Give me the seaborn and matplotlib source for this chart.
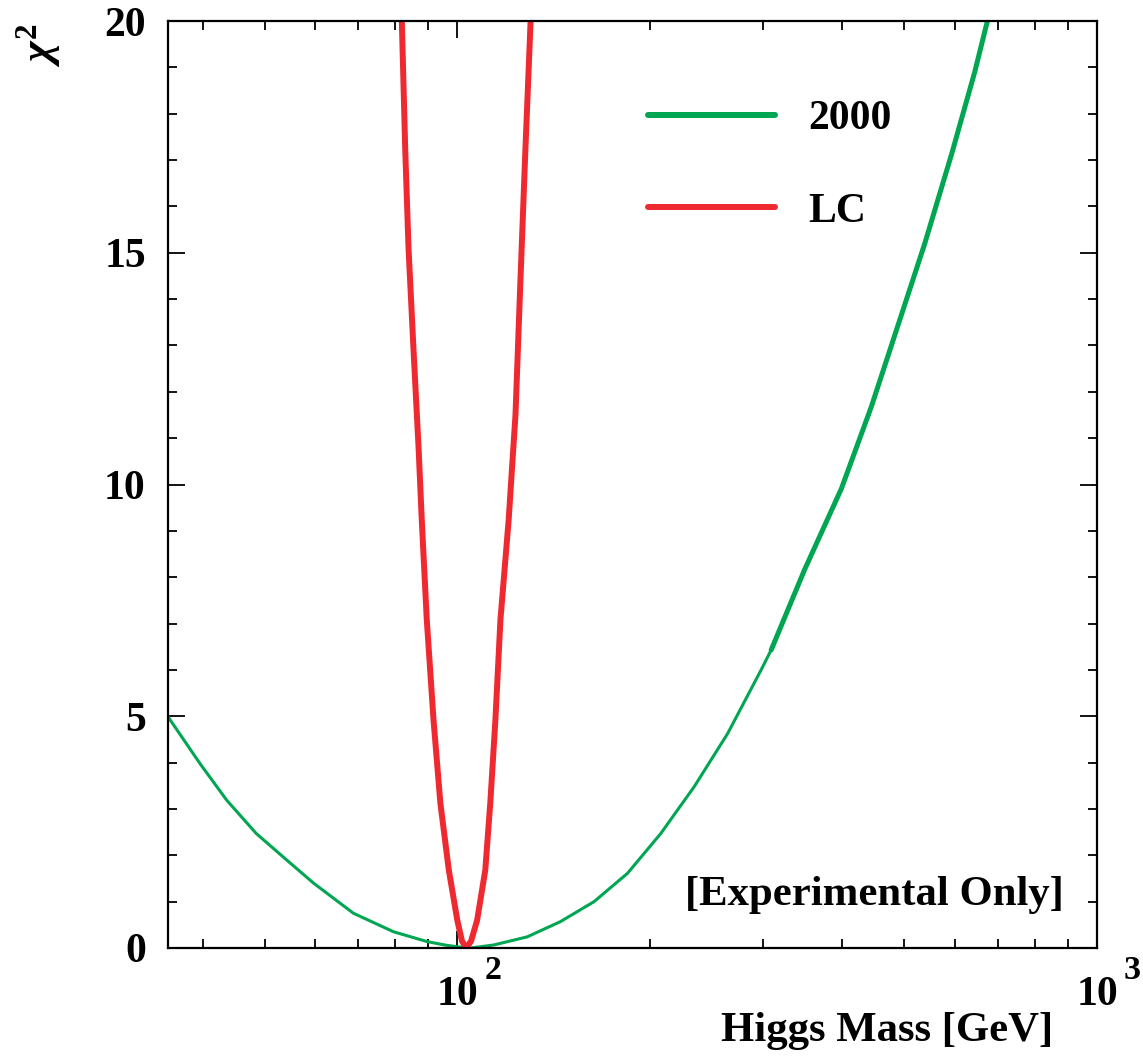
import matplotlib
matplotlib.use("Agg")
import matplotlib.pyplot as plt
import matplotlib.ticker as mticker
import seaborn as sns
import pandas as pd

# ---- data ----
green_mass_low = [35.3, 39.6, 43.6, 48.5, 54.1, 59.6, 68.8, 79.5, 89.6, 96.0, 101.0, 105.0,
                  114.0, 128.6, 145.0, 163.6, 184.5, 208.0, 234.6, 264.7, 298.5, 309.5]
green_chi2_low = [4.99, 3.98, 3.19, 2.47, 1.90, 1.40, 0.75, 0.35, 0.14, 0.06, 0.02, 0.0,
                  0.065, 0.24, 0.57, 1.0, 1.61, 2.47, 3.48, 4.63, 6.0, 6.43]
green_mass_high = [309.5, 349.0, 398.5, 443.9, 488.7, 538.0, 592.6, 644.0, 674.0]
green_chi2_high = [6.43, 8.16, 9.91, 11.68, 13.44, 15.2, 17.13, 18.9, 20.0]

lc_mass = [81.9, 82.9, 83.9, 85.4, 87.0, 88.0, 89.6, 91.8, 94.1, 97.0, 100.0, 101.7, 103.3,
           105.1, 107.4, 110.6, 112.6, 114.7, 116.8, 120.3, 123.3, 125.5, 127.8, 130.2]
lc_chi2 = [20.0, 17.25, 15.1, 12.94, 10.78, 9.23, 7.08, 4.92, 3.12, 1.68, 0.6, 0.15, 0.0,
           0.15, 0.6, 1.68, 3.12, 4.92, 7.08, 9.23, 11.5, 14.38, 17.25, 20.0]

series_labels = ["2000", "LC"]
x_major = [100, 1000]
x_major_base = ["10", "10"]
x_major_exp = ["2", "3"]
x_minor = [40, 50, 60, 70, 80, 90, 200, 300, 400, 500, 600, 700, 800, 900]
annotation = "[Experimental Only]"
xlabel = "Higgs Mass [GeV]"
ylabel = r"$\chi^{2}$"

GREEN = "#00a651"
RED = "#ee2a30"

sns.set_theme(style="ticks")
plt.rcParams["font.family"] = ["Liberation Serif", "DejaVu Serif"]
plt.rcParams["font.weight"] = "bold"
plt.rcParams["text.color"] = "black"
plt.rcParams["axes.labelcolor"] = "black"
plt.rcParams["xtick.color"] = "black"
plt.rcParams["ytick.color"] = "black"
plt.rcParams["mathtext.fontset"] = "custom"
plt.rcParams["mathtext.rm"] = "Liberation Serif"
plt.rcParams["mathtext.bf"] = "Liberation Serif:bold"
plt.rcParams["mathtext.it"] = "Liberation Serif:italic"

fig = plt.figure(figsize=(11.43, 10.59), dpi=100)
ax = fig.add_axes([168 / 1143, 1 - 948 / 1059, (1097 - 168) / 1143, (948 - 21) / 1059])

df_gl = pd.DataFrame({"mass": green_mass_low, "chi2": green_chi2_low})
df_gh = pd.DataFrame({"mass": green_mass_high, "chi2": green_chi2_high})
df_lc = pd.DataFrame({"mass": lc_mass, "chi2": lc_chi2})

sns.lineplot(data=df_gl, x="mass", y="chi2", ax=ax, color=GREEN, linewidth=2.2, estimator=None)
sns.lineplot(data=df_gh, x="mass", y="chi2", ax=ax, color=GREEN, linewidth=3.6, estimator=None,
             label=series_labels[0])
sns.lineplot(data=df_lc, x="mass", y="chi2", ax=ax, color=RED, linewidth=4.3, estimator=None,
             label=series_labels[1])
for ln in ax.get_lines():
    ln.set_solid_joinstyle("round")

ax.set_xscale("log")
ax.set_xlim(35.3, 1000)
ax.set_ylim(0, 20)

ax.xaxis.set_major_locator(mticker.FixedLocator(x_major))
ax.xaxis.set_major_formatter(mticker.FixedFormatter(x_major_base))
ax.xaxis.set_minor_locator(mticker.FixedLocator(x_minor))
ax.xaxis.set_minor_formatter(mticker.NullFormatter())
ax.yaxis.set_major_locator(mticker.MultipleLocator(5))
ax.yaxis.set_minor_locator(mticker.MultipleLocator(1))

ax.tick_params(which="both", direction="in", top=True, right=True, color="black", width=1.3)
ax.tick_params(which="major", length=12.5, labelsize=30)
ax.tick_params(which="minor", length=6.5)
ax.tick_params(axis="x", which="major", pad=20)
ax.tick_params(axis="y", which="major", pad=16)
for lab in ax.get_yticklabels() + ax.get_xticklabels():
    lab.set_fontweight("bold")

# exponents of the x tick labels
for xv, e in zip(x_major, x_major_exp):
    ax.annotate(e, xy=(xv, 0), xycoords=("data", "axes fraction"),
                xytext=(27, -31), textcoords="offset pixels",
                ha="left", va="baseline", fontsize=24.5, fontweight="bold",
                annotation_clip=False)

for sp in ax.spines.values():
    sp.set_color("black")
    sp.set_linewidth(1.6)

ax.set_xlabel(xlabel, fontsize=30.8, fontweight="bold", ha="right", va="top")
ax.xaxis.set_label_coords((1053 - 168) / 929, -(1012 - 948) / 927)
ax.set_ylabel(ylabel, fontsize=32, fontweight="normal", ha="right", va="bottom", rotation=90)
ax.yaxis.set_label_coords(-(168 - 63) / 929, 1 - (23 - 21) / 927)

ax.text((1064 - 168) / 929, (948 - 905) / 927, annotation, transform=ax.transAxes,
        ha="right", va="baseline", fontsize=30.8, fontweight="bold")

leg = ax.legend(loc="upper left", bbox_to_anchor=((648 - 168) / 929, 1 - (100 - 21) / 927),
                frameon=False, fontsize=30, handlelength=3.05, handletextpad=0.8,
                labelspacing=1.3, borderpad=0, borderaxespad=0)
for ln in leg.get_lines():
    ln.set_linewidth(4.3)
for t in leg.get_texts():
    t.set_fontweight("bold")

fig.savefig("out.png", dpi=100)
